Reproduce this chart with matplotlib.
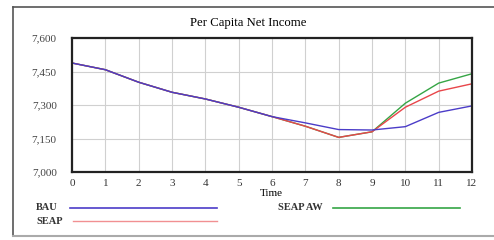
import matplotlib
matplotlib.use("Agg")
import matplotlib.pyplot as plt
from matplotlib.lines import Line2D

# Per Capita Net Income by scenario
time = list(range(13))
bau = [7488, 7458, 7402, 7357, 7327, 7290, 7248, 7220, 7190, 7188, 7203, 7267, 7296]
seap = [7488, 7458, 7402, 7357, 7327, 7290, 7248, 7205, 7155, 7180, 7290, 7362, 7395]
seap_aw = [7488, 7458, 7402, 7357, 7327, 7290, 7248, 7205, 7155, 7180, 7308, 7398, 7440]
y_ticks = [7000, 7150, 7300, 7450, 7600]

c_bau = '#4b3cc8'
c_seap = '#e8464a'
c_aw = '#35a545'

plt.rcParams['font.family'] = ['Liberation Serif', 'DejaVu Serif']

fig = plt.figure(figsize=(4.94, 2.40), dpi=100)
fig.patch.set_facecolor('white')

# outer frame
fig.add_artist(Line2D([13/494, 13/494], [1 - 7/240, 1 - 236/240], color='#555555', lw=1.2))
fig.add_artist(Line2D([13/494, 1.0], [1 - 7/240, 1 - 7/240], color='#555555', lw=1.2))
fig.add_artist(Line2D([13/494, 1.0], [1 - 236/240, 1 - 236/240], color='#aaaaaa', lw=1.5))

ax = fig.add_axes([72/494, 68/240, 400/494, 134/240])
ax.plot(time, seap_aw, color=c_aw, lw=1.0)
ax.plot(time, seap, color=c_seap, lw=1.0)
ax.plot(time, bau, color=c_bau, lw=1.0)

ax.set_xlim(0, 12)
ax.set_ylim(7000, 7600)
ax.set_xticks(time)
ax.set_xticklabels([str(t) for t in time], fontsize=8, color='#333333')
ax.set_yticks(y_ticks)
ax.set_yticklabels([f'{v:,}' for v in y_ticks], fontsize=8, color='#444444')
ax.tick_params(axis='y', length=0, pad=11)
ax.tick_params(axis='x', length=0, pad=5)
ax.grid(True, color='#d0d0d0', lw=0.8)
for s in ax.spines.values():
    s.set_linewidth(1.6)
    s.set_color('#222222')

fig.text(248/494, 1 - 23/240, 'Per Capita Net Income', ha='center', va='center', fontsize=9.2)
fig.text(271/494, 1 - 193/240, 'Time', ha='center', va='center', fontsize=8)

# legend
fig.text(36/494, 1 - 208/240, 'BAU', ha='left', va='center', fontsize=7.5, fontweight='bold', color='#333333')
fig.text(36/494, 1 - 221/240, 'SEAP', ha='left', va='center', fontsize=7.5, fontweight='bold', color='#333333')
fig.text(278/494, 1 - 208/240, 'SEAP AW', ha='left', va='center', fontsize=7.5, fontweight='bold', color='#333333')
fig.add_artist(Line2D([70/494, 217/494], [1 - 208/240] * 2, color=c_bau, lw=1.2))
fig.add_artist(Line2D([73/494, 217/494], [1 - 221/240] * 2, color=c_seap, lw=1.0, alpha=0.6))
fig.add_artist(Line2D([333/494, 460/494], [1 - 208/240] * 2, color=c_aw, lw=1.2))

fig.savefig('out.png', dpi=100)
